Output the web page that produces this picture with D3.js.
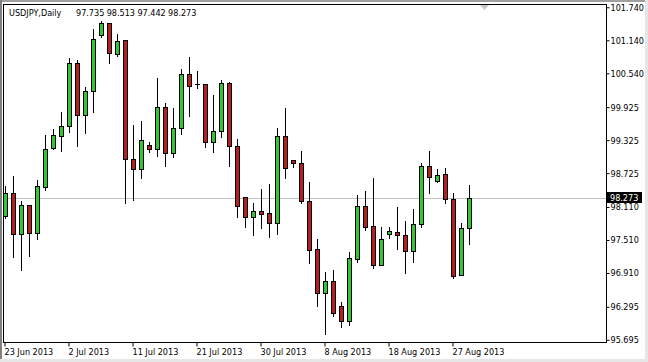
<!DOCTYPE html>
<html>
<head>
<meta charset="utf-8">
<script src="https://cdn.jsdelivr.net/npm/d3@7/dist/d3.min.js"></script>
<style>
  html, body { margin: 0; padding: 0; background: #ffffff; }
  svg { display: block; }
  text { font-family: "DejaVu Sans Condensed", "DejaVu Sans", sans-serif; font-size: 9px; fill: #000; }
</style>
</head>
<body>
<svg id="chart" width="648" height="362"></svg>
<script>
const symbolName = "USDJPY,Daily";
const dates = [
  "2013-06-23","2013-06-24","2013-06-25","2013-06-26","2013-06-27","2013-06-28","2013-06-30",
  "2013-07-01","2013-07-02","2013-07-03","2013-07-04","2013-07-05","2013-07-07","2013-07-08",
  "2013-07-09","2013-07-10","2013-07-11","2013-07-12","2013-07-14","2013-07-15","2013-07-16",
  "2013-07-17","2013-07-18","2013-07-19","2013-07-21","2013-07-22","2013-07-23","2013-07-24",
  "2013-07-25","2013-07-26","2013-07-28","2013-07-29","2013-07-30","2013-07-31","2013-08-01",
  "2013-08-02","2013-08-04","2013-08-05","2013-08-06","2013-08-07","2013-08-08","2013-08-09",
  "2013-08-11","2013-08-12","2013-08-13","2013-08-14","2013-08-15","2013-08-16","2013-08-18",
  "2013-08-19","2013-08-20","2013-08-21","2013-08-22","2013-08-23","2013-08-25","2013-08-26",
  "2013-08-27","2013-08-28","2013-08-29"
];
const openPrices = [97.946, 98.358, 97.618, 98.146, 97.631, 98.478, 99.177, 99.406, 99.582, 100.733,
  99.777, 100.218, 101.237, 101.449, 100.886, 101.146, 98.982, 98.795, 99.231, 99.169,
  99.922, 99.086, 99.540, 100.528, 100.346, 100.346, 99.297, 99.491, 100.358, 99.224,
  98.286, 97.933, 98.031, 97.995, 97.824, 99.400, 98.964, 98.904, 98.224, 97.340,
  96.551, 96.758, 96.309, 96.042, 97.164, 98.128, 97.764, 97.055, 97.613, 97.649,
  97.600, 97.309, 97.795, 98.855, 98.588, 98.704, 98.249, 96.873, 97.735];
const highPrices = [98.491, 98.678, 98.218, 98.146, 98.600, 99.418, 99.522, 99.842, 100.813, 100.782,
  100.286, 101.340, 101.491, 101.460, 101.249, 101.146, 99.600, 99.673, 99.291, 100.455,
  99.995, 99.904, 100.613, 100.831, 100.582, 100.346, 100.146, 100.418, 100.382, 99.340,
  98.286, 98.177, 98.437, 98.528, 99.540, 99.904, 98.964, 99.128, 98.558, 97.522,
  96.928, 96.964, 96.388, 97.286, 98.328, 98.400, 98.631, 97.751, 97.751, 98.104,
  97.855, 98.073, 98.904, 99.128, 98.795, 98.813, 98.358, 97.813, 98.513];
const lowPrices = [97.909, 97.206, 96.964, 97.224, 97.533, 98.418, 99.170, 99.133, 99.478, 99.224,
  99.460, 99.842, 101.200, 100.722, 100.855, 98.188, 98.237, 98.642, 99.115, 99.037,
  98.855, 99.013, 99.431, 99.769, 100.268, 99.195, 99.115, 99.388, 98.855, 97.933,
  97.751, 97.600, 97.733, 97.569, 97.618, 98.631, 98.842, 98.177, 97.086, 96.315,
  95.800, 96.128, 95.922, 95.964, 97.115, 97.691, 96.995, 97.050, 97.551, 97.340,
  96.904, 97.104, 97.740, 98.358, 98.569, 98.177, 96.813, 96.870, 97.442];
const closePrices = [98.358, 97.618, 98.146, 97.637, 98.491, 99.158, 99.418, 99.582, 100.722, 99.777,
  100.218, 101.164, 101.449, 100.904, 101.133, 98.977, 98.795, 99.328, 99.169, 99.922,
  99.086, 99.540, 100.528, 100.309, 100.346, 99.297, 99.491, 100.358, 99.224, 98.133,
  97.933, 98.031, 97.982, 97.824, 99.400, 98.824, 98.904, 98.224, 97.328, 96.551,
  96.758, 96.188, 96.042, 97.177, 98.128, 97.751, 97.055, 97.522, 97.673, 97.600,
  97.309, 97.795, 98.855, 98.649, 98.691, 98.249, 96.855, 97.722, 98.273];
const priceTicks = [101.740, 101.140, 100.540, 99.925, 99.325, 98.725, 98.110, 97.510, 96.910, 96.295, 95.695];
const dateTicks = ["2013-06-23","2013-07-02","2013-07-11","2013-07-21","2013-07-30","2013-08-08","2013-08-18","2013-08-27"];

const W = 648, H = 362;
const plot = { left: 3, right: 606, top: 4, bottom: 342 };
const upColor = "#32c832", downColor = "#b51f1f";

const svg = d3.select("#chart");

// window frame
svg.append("rect").attr("x", 0).attr("y", 0).attr("width", W).attr("height", H).attr("fill", "#ffffff");
svg.append("rect").attr("x", 0).attr("y", 0).attr("width", W).attr("height", 2).attr("fill", "#a0a0a0");
svg.append("rect").attr("x", 0).attr("y", 0).attr("width", 2).attr("height", H).attr("fill", "#808080");
svg.append("rect").attr("x", W - 3).attr("y", 0).attr("width", 3).attr("height", H).attr("fill", "#e6e6e6");
svg.append("rect").attr("x", 0).attr("y", H - 3).attr("width", W).attr("height", 3).attr("fill", "#e6e6e6");

const x = d3.scaleBand().domain(dates).range([1, 1 + 8 * dates.length]).paddingInner(0).paddingOuter(0);
const y = d3.scaleLinear().domain([95.655, 101.800]).range([plot.bottom, plot.top]);

svg.append("defs").append("clipPath").attr("id", "plotclip")
  .append("rect").attr("x", plot.left + 1).attr("y", plot.top + 1)
  .attr("width", plot.right - plot.left - 1).attr("height", plot.bottom - plot.top - 1);

// last price line
const lastClose = closePrices[closePrices.length - 1];
svg.append("line")
  .attr("x1", plot.left).attr("x2", plot.right)
  .attr("y1", Math.round(y(lastClose)) + 0.5).attr("y2", Math.round(y(lastClose)) + 0.5)
  .attr("stroke", "#c0c0c0").attr("stroke-width", 1);

// candles
const candles = dates.map((d, i) => ({ d, o: openPrices[i], h: highPrices[i], l: lowPrices[i], c: closePrices[i] }));
const g = svg.append("g").attr("clip-path", "url(#plotclip)");
const cx = d => Math.round(x(d.d) + x.bandwidth() / 2);

g.selectAll("line.wick").data(candles).join("line")
  .attr("class", "wick")
  .attr("x1", d => cx(d) + 0.5).attr("x2", d => cx(d) + 0.5)
  .attr("y1", d => Math.round(y(d.h))).attr("y2", d => Math.round(y(d.l)) + 1)
  .attr("stroke", "#000").attr("stroke-width", 1);

g.selectAll("rect.body").data(candles.filter(d => d.o !== d.c)).join("rect")
  .attr("class", "body")
  .attr("x", d => cx(d) - 1.5)
  .attr("y", d => Math.round(y(Math.max(d.o, d.c))) + 0.5)
  .attr("width", 4)
  .attr("height", d => Math.max(1, Math.round(y(Math.min(d.o, d.c))) - Math.round(y(Math.max(d.o, d.c)))))
  .attr("fill", d => d.c > d.o ? upColor : downColor)
  .attr("stroke", "#000").attr("stroke-width", 1);

g.selectAll("line.doji").data(candles.filter(d => d.o === d.c)).join("line")
  .attr("class", "doji")
  .attr("x1", d => cx(d) - 2).attr("x2", d => cx(d) + 3)
  .attr("y1", d => Math.round(y(d.o)) + 0.5).attr("y2", d => Math.round(y(d.o)) + 0.5)
  .attr("stroke", "#000").attr("stroke-width", 1);

// plot frame
svg.append("rect")
  .attr("x", plot.left + 0.5).attr("y", plot.top + 0.5)
  .attr("width", plot.right - plot.left).attr("height", plot.bottom - plot.top)
  .attr("fill", "none").attr("stroke", "#000").attr("stroke-width", 1);

// chart shift marker
svg.append("path")
  .attr("d", `M480,${plot.top + 1} L489,${plot.top + 1} L484.5,${plot.top + 6} Z`)
  .attr("fill", "#c8c8c8");

// right price axis
const yAxis = d3.axisRight(y).tickValues(priceTicks).tickFormat(d3.format(".3f")).tickSize(3).tickPadding(1);
const ya = svg.append("g").attr("transform", `translate(${plot.right + 0.5},0)`).call(yAxis);
ya.select(".domain").remove();
ya.selectAll("text").style("font-family", null).style("font-size", null).attr("fill", "#000");
ya.attr("font-family", null).attr("font-size", null);

// bottom date axis
const fmt = d3.timeFormat("%-d %b %Y");
const parse = d3.timeParse("%Y-%m-%d");
const xAxis = d3.axisBottom(x).tickValues(dateTicks).tickFormat(d => fmt(parse(d))).tickSize(4).tickPadding(2);
const xa = svg.append("g").attr("transform", `translate(0,${plot.bottom + 0.5})`).call(xAxis);
xa.select(".domain").remove();
xa.selectAll("text").attr("text-anchor", "start").attr("x", -0.5).attr("dy", "0.71em").attr("fill", "#000");
xa.attr("font-family", null).attr("font-size", null);

// last price label
const ly = Math.round(y(lastClose));
svg.append("rect").attr("x", plot.right + 1).attr("y", ly - 6).attr("width", 35).attr("height", 11).attr("fill", "#000");
svg.append("text").attr("x", plot.right + 4).attr("y", ly).attr("dy", "0.35em")
  .attr("fill", "#fff").style("fill", "#fff").text(d3.format(".3f")(lastClose));

// header
const last = candles[candles.length - 1];
svg.append("text").attr("x", 9).attr("y", 16).text(symbolName);
[last.o, last.h, last.l, last.c].forEach((v, i) => {
  svg.append("text").attr("x", 76 + i * 30.7).attr("y", 16).text(d3.format(".3f")(v));
});
</script>
</body>
</html>
